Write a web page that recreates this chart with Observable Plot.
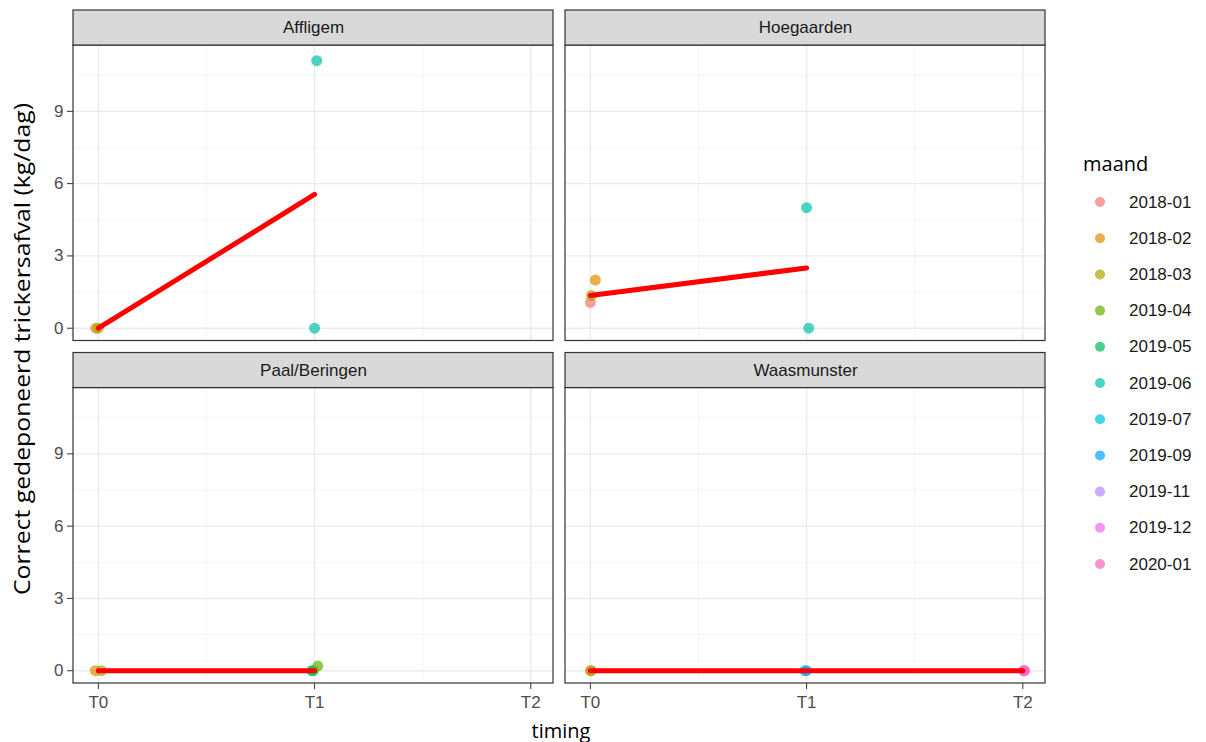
<!DOCTYPE html>
<html>
<head>
<meta charset="utf-8">
<script src="https://cdn.jsdelivr.net/npm/d3@7"></script>
<script src="https://cdn.jsdelivr.net/npm/@observablehq/plot@0.6"></script>
<style>
  body { margin: 0; background: #fff; }
  #chart { width: 1206px; height: 742px; }
</style>
</head>
<body>
<div id="chart"></div>
<script>
// Locations, laid out two per row
const locations = ["Affligem", "Hoegaarden", "Paal/Beringen", "Waasmunster"];
const timingLabels = ["T0", "T1", "T2"];
const yTicks = [0, 3, 6, 9];

// Months and their hue palette
const months = ["2018-01", "2018-02", "2018-03", "2019-04", "2019-05", "2019-06",
                "2019-07", "2019-09", "2019-11", "2019-12", "2020-01"];
const monthColors = ["#F8766D", "#DB8E00", "#AEA200", "#64B200", "#00BD5C", "#00C1A7",
                     "#00BADE", "#00A6FF", "#B385FF", "#EF67EB", "#FF63B6"];

// Measurements: one entry per observation
const pointLocation = [
  "Affligem", "Affligem", "Affligem", "Affligem",
  "Hoegaarden", "Hoegaarden", "Hoegaarden", "Hoegaarden", "Hoegaarden",
  "Paal/Beringen", "Paal/Beringen", "Paal/Beringen", "Paal/Beringen", "Paal/Beringen",
  "Waasmunster", "Waasmunster", "Waasmunster", "Waasmunster", "Waasmunster", "Waasmunster", "Waasmunster"
];
const pointTiming = [
  0, 0, 1, 1,
  0, 0, 0, 1, 1,
  0, 0, 1, 1, 1,
  0, 0, 1, 1, 2, 2, 2
];
const pointMonth = [
  "2018-02", "2018-03", "2019-06", "2019-06",
  "2018-01", "2018-03", "2018-02", "2019-06", "2019-06",
  "2018-02", "2018-03", "2019-05", "2019-05", "2019-04",
  "2018-02", "2018-03", "2019-07", "2019-09", "2019-11", "2019-12", "2020-01"
];
const pointValue = [
  0, 0, 11.1, 0,
  1.07, 1.36, 2.0, 5.0, 0,
  0, 0, 0, 0, 0.2,
  0, 0, 0, 0, 0, 0, 0
];
// small horizontal jitter of each observation around its timing
const pointJitter = [
  -0.012, 0.0, 0.01, 0.0,
  0.0, 0.005, 0.023, 0.0, 0.01,
  -0.014, 0.014, -0.014, -0.005, 0.015,
  0.0, 0.004, -0.008, 0.0, 0.004, 0.006, 0.008
];

const rows = pointValue.map((value, i) => {
  const k = locations.indexOf(pointLocation[i]);
  return {
    col: k % 2, row: Math.floor(k / 2),
    t: pointTiming[i], jitter: pointJitter[i],
    month: pointMonth[i], value
  };
});
const strips = locations.map((name, k) => ({name, col: k % 2, row: Math.floor(k / 2)}));

// panel extents in data units; the strip sits on top of each panel
const xMin = -0.115, xMax = 2.105;
const yMin = -0.53, yMax = 11.73, yTop = yMax + 1.454;
const majorX = [0, 1, 2], minorX = [0.5, 1.5];
const majorY = yTicks, minorY = [1.5, 4.5, 7.5, 10.5];

const plot = Plot.plot({
  width: 1206,
  height: 742,
  marginTop: 10,
  marginRight: 161,
  marginBottom: 59,
  marginLeft: 73,
  style: {fontFamily: "'Liberation Sans', Arial, sans-serif", background: "#fff", overflow: "visible"},
  x: {domain: [xMin, xMax]},
  y: {domain: [yMin, yTop]},
  fx: {domain: [0, 1], axis: null, paddingInner: 0.0244, paddingOuter: 0, round: false},
  fy: {domain: [0, 1], axis: null, paddingInner: 0.0351, paddingOuter: 0, round: false},
  color: {domain: months, range: monthColors},
  marks: [
    // grid
    Plot.ruleX(minorX, {y1: yMin, y2: yMax, stroke: "#f2f2f2", strokeWidth: 0.8}),
    Plot.ruleY(minorY, {x1: xMin, x2: xMax, stroke: "#f2f2f2", strokeWidth: 0.8}),
    Plot.ruleX(majorX, {y1: yMin, y2: yMax, stroke: "#ebebeb", strokeWidth: 1.4}),
    Plot.ruleY(majorY, {x1: xMin, x2: xMax, stroke: "#ebebeb", strokeWidth: 1.4}),
    // observations
    Plot.dot(rows, {
      fx: "col", fy: "row",
      x: d => d.t + d.jitter, y: "value",
      fill: "month", fillOpacity: 0.7, r: 5.5, stroke: null
    }),
    // median per timing
    Plot.lineY(rows, Plot.groupX({y: "median"}, {
      fx: "col", fy: "row", x: "t", y: "value",
      stroke: "#ff0000", strokeWidth: 5
    })),
    // panel border
    Plot.rect([0], {x1: xMin, x2: xMax, y1: yMin, y2: yMax, fill: "none", stroke: "#333333", strokeWidth: 1.2}),
    // strips
    Plot.rect(strips, {fx: "col", fy: "row", x1: xMin, x2: xMax, y1: yMax, y2: yTop,
      fill: "#d9d9d9", stroke: "#333333", strokeWidth: 1.2}),
    Plot.text(strips, {fx: "col", fy: "row", x: (xMin + xMax) / 2, y: (yMax + yTop) / 2,
      text: "name", fontSize: 17, fill: "#1a1a1a"}),
    // axes
    Plot.axisY({ticks: yTicks, tickSize: 6, tickPadding: 4, fontSize: 17,
      stroke: "#333333", fill: "#4d4d4d", label: null}),
    Plot.axisX({ticks: [0, 1, 2], tickFormat: d => timingLabels[d], tickSize: 6, tickPadding: 6,
      fontSize: 17, stroke: "#333333", fill: "#4d4d4d", label: null})
  ]
});

const svg = d3.select(plot);
const titleFont = "'Open Sans', 'Noto Sans', sans-serif";

// axis titles
svg.append("text")
  .attr("transform", "translate(22,349) rotate(-90)")
  .attr("text-anchor", "middle").attr("dominant-baseline", "central")
  .attr("textLength", 492).attr("lengthAdjust", "spacingAndGlyphs")
  .style("font-family", titleFont).style("font-size", "21px").attr("fill", "#000")
  .text("Correct gedeponeerd trickersafval (kg/dag)");
svg.append("text")
  .attr("x", 561).attr("y", 730)
  .attr("text-anchor", "middle").attr("dominant-baseline", "central")
  .style("font-family", titleFont).style("font-size", "20px").attr("fill", "#000")
  .text("timing");

// legend
const legend = svg.append("g").attr("text-anchor", "start");
legend.append("text")
  .attr("x", 1083).attr("y", 163).attr("dominant-baseline", "central")
  .style("font-family", titleFont).style("font-size", "20px").attr("fill", "#000")
  .text("maand");
months.forEach((m, i) => {
  const y = 202 + i * 36.2;
  legend.append("circle").attr("cx", 1100).attr("cy", y).attr("r", 5)
    .attr("fill", monthColors[i]).attr("fill-opacity", 0.7);
  legend.append("text").attr("x", 1129).attr("y", y).attr("dominant-baseline", "central")
    .style("font-family", "'Liberation Sans', Arial, sans-serif").style("font-size", "17px")
    .attr("fill", "#1a1a1a").text(m);
});

document.getElementById("chart").append(plot);
</script>
</body>
</html>
